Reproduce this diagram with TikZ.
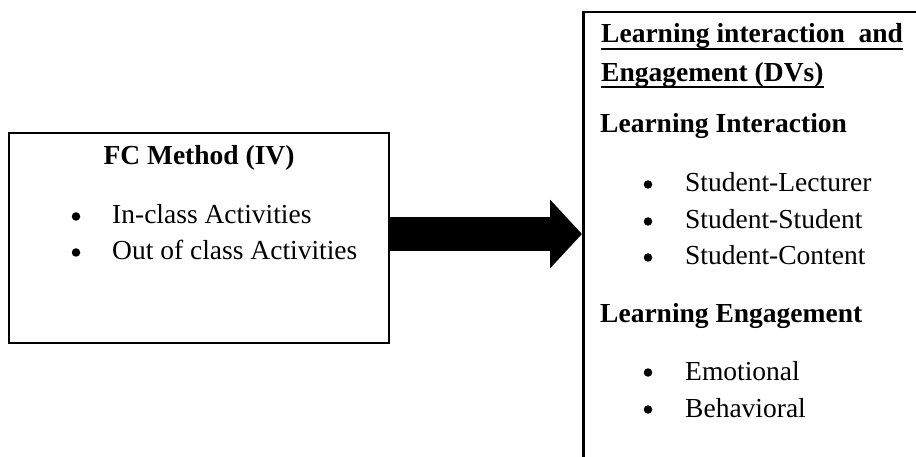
\documentclass[tikz,border=0pt]{standalone}
\usepackage{fontspec}
\setmainfont{Liberation Serif}
\usetikzlibrary{arrows.meta}
\tikzset{
  box/.style={draw=black, line width=2.5pt, rectangle, inner sep=0pt},
  txt/.style={inner sep=0pt, anchor=base west, font=\fontsize{27.5}{33}\selectfont},
  hd/.style={txt, font=\fontsize{27.5}{33}\selectfont\bfseries},
  bul/.style={circle, fill=black, inner sep=0pt, minimum size=8.5pt},
  uline/.style={line width=1.8pt},
  bigarrow/.style={line width=34pt, -{Triangle[length=32pt,width=67pt]}}
}
\begin{document}
\begin{tikzpicture}[x=1pt,y=-1pt]
\useasboundingbox (0,0) rectangle (916,457);
\clip (0,0) rectangle (916,457);
% boxes
\node[box, minimum width=380pt, minimum height=210pt] (fc) at (199,238) {};
\node[box, minimum width=360pt, minimum height=480pt, anchor=north west] (dv) at (582,11) {};
% arrow
\draw[bigarrow] ([yshift=4pt]fc.east) -- ([yshift=4pt]fc.east -| dv.west);
% left box text
\node[hd, anchor=base] (fct) at (199,165) {FC Method (IV)};
\node[bul] (b1) at (76,216.5) {};
\node[txt] (t1) at (112,224) {In-class Activities};
\node[bul] (b2) at (76,252.5) {};
\node[txt] (t2) at (112,260) {Out of class Activities};
% right box text
\node[hd] (u1) at (601,43) {Learning interaction\ \ and};
\node[hd] (u2) at (601,82) {Engagement (DVs)};
\draw[uline] ([yshift=-6pt]u1.base west) -- ([yshift=-6pt]u1.base east);
\draw[uline] ([yshift=-5pt]u2.base west) -- ([yshift=-5pt]u2.base east);
\node[hd] (li) at (600,133) {Learning Interaction};
\node[bul] (b3) at (648,184.5) {};
\node[txt] (s1) at (685,192) {Student-Lecturer};
\node[bul] (b4) at (648,221.5) {};
\node[txt] (s2) at (685,229) {Student-Student};
\node[bul] (b5) at (648,257.5) {};
\node[txt] (s3) at (685,265) {Student-Content};
\node[hd] (le) at (600,322) {Learning Engagement};
\node[bul] (b6) at (648,372.5) {};
\node[txt] (e1) at (685,380) {Emotional};
\node[bul] (b7) at (648,409.5) {};
\node[txt] (e2) at (685,417) {Behavioral};
\end{tikzpicture}
\end{document}
